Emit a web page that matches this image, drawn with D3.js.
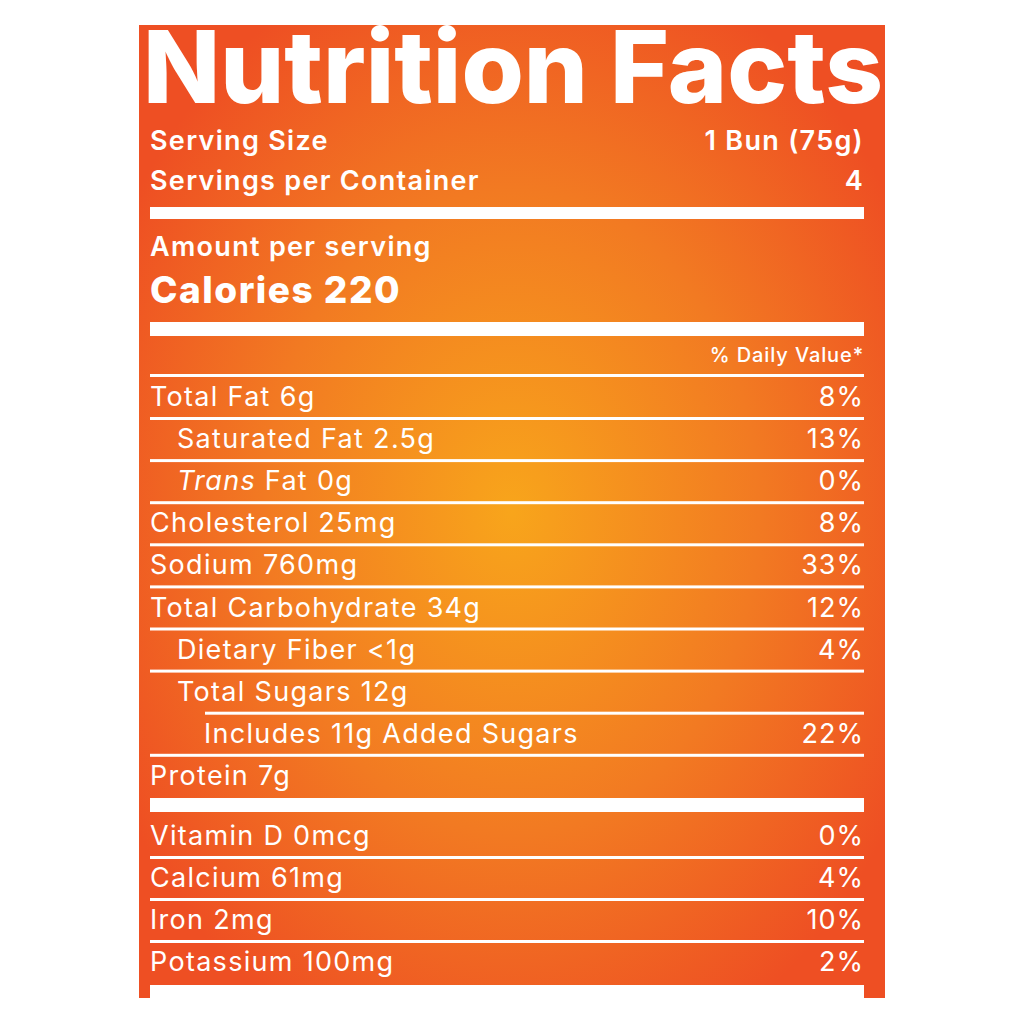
<!DOCTYPE html>
<html>
<head>
<meta charset="utf-8">
<script src="https://cdn.jsdelivr.net/npm/d3@7"></script>
<style>
  body { margin: 0; background: #fff; }
  text { font-family: Inter, "Open Sans", sans-serif; fill: #fff; }
</style>
</head>
<body>
<svg id="chart" width="1024" height="1024"></svg>
<script>
// ** Label data **
var nutrients = ["Total Fat 6g", "Saturated Fat 2.5g", "Trans Fat 0g", "Cholesterol 25mg", "Sodium 760mg",
                 "Total Carbohydrate 34g", "Dietary Fiber <1g", "Total Sugars 12g", "Includes 11g Added Sugars", "Protein 7g"];
var dailyValues = ["8%", "13%", "0%", "8%", "33%", "12%", "4%", "", "22%", ""];
var indentLevel = [0, 1, 1, 0, 0, 0, 1, 1, 2, 0];
var vitamins = ["Vitamin D 0mcg", "Calcium 61mg", "Iron 2mg", "Potassium 100mg"];
var vitaminValues = ["0%", "4%", "10%", "2%"];
var serving = [["Serving Size", "1 Bun (75g)"], ["Servings per Container", "4"]];
var calories = 220;

var svg = d3.select("#chart");
var L = 150, R = 864;

// background gradient
var grad = svg.append("defs").append("radialGradient").attr("id", "bg")
  .attr("cx", "50%").attr("cy", "50%").attr("r", "60%");
grad.append("stop").attr("offset", "0%").attr("stop-color", "#f8a51b");
grad.append("stop").attr("offset", "55%").attr("stop-color", "#f27a22");
grad.append("stop").attr("offset", "100%").attr("stop-color", "#ee4f23");
svg.append("rect").attr("x", 139).attr("y", 25).attr("width", 746).attr("height", 973).attr("fill", "url(#bg)");

// title
svg.append("text").attr("x", 143).attr("y", 103).attr("font-size", 100).attr("font-weight", 800)
  .attr("textLength", 740).attr("lengthAdjust", "spacingAndGlyphs").text("Nutrition Facts");

// serving info
svg.selectAll(".srv").data(serving).enter().append("g").each(function(d, i) {
  var g = d3.select(this), y = 150 + i * 40;
  g.append("text").attr("x", L).attr("y", y).attr("font-size", 27).attr("font-weight", 600).attr("letter-spacing", 1.3).text(d[0]);
  g.append("text").attr("x", R).attr("y", y).attr("font-size", 27).attr("font-weight", 600).attr("letter-spacing", 1.3)
    .attr("text-anchor", "end").text(d[1]);
});

function bar(y, h, x0) {
  svg.append("rect").attr("x", x0 || L).attr("y", y).attr("width", R - (x0 || L)).attr("height", h).attr("fill", "#fff");
}
bar(207, 12);
svg.append("text").attr("x", L).attr("y", 256).attr("font-size", 27).attr("font-weight", 600).attr("letter-spacing", 1.3).text("Amount per serving");
svg.append("text").attr("x", L).attr("y", 303).attr("font-size", 37).attr("font-weight", 800).attr("letter-spacing", 1.5).text("Calories " + calories);
bar(322, 14);
svg.append("text").attr("x", R).attr("y", 362).attr("font-size", 20).attr("font-weight", 500).attr("letter-spacing", 0.9)
  .attr("text-anchor", "end").text("% Daily Value*");
bar(374, 3);

// nutrient rows
var y = d3.scaleLinear().domain([0, 1]).range([406, 448.1]);
var indent = [0, 27, 54];
svg.selectAll(".row").data(nutrients).enter().append("g").each(function(d, i) {
  var g = d3.select(this);
  var t = g.append("text").attr("x", L + indent[indentLevel[i]]).attr("y", y(i)).attr("font-size", 27).attr("font-weight", 400)
    .attr("letter-spacing", 1.3);
  if (d.indexOf("Trans") === 0) {
    t.append("tspan").attr("font-style", "italic").text("Trans");
    t.append("tspan").text(d.slice(5));
  } else t.text(d);
  g.append("text").attr("x", R).attr("y", y(i)).attr("font-size", 27).attr("letter-spacing", 1).attr("text-anchor", "end").text(dailyValues[i]);
  if (i < nutrients.length - 1) bar(y(i) + 11, 3, i === 7 ? 205 : L);
});
bar(798, 14);

var yv = d3.scaleLinear().domain([0, 1]).range([845, 887]);
svg.selectAll(".vit").data(vitamins).enter().append("g").each(function(d, i) {
  var g = d3.select(this);
  g.append("text").attr("x", L).attr("y", yv(i)).attr("font-size", 27).attr("letter-spacing", 1.3).text(d);
  g.append("text").attr("x", R).attr("y", yv(i)).attr("font-size", 27).attr("letter-spacing", 1).attr("text-anchor", "end").text(vitaminValues[i]);
  if (i < vitamins.length - 1) bar(yv(i) + 11, 3);
});
bar(985, 13);
</script>
</body>
</html>
